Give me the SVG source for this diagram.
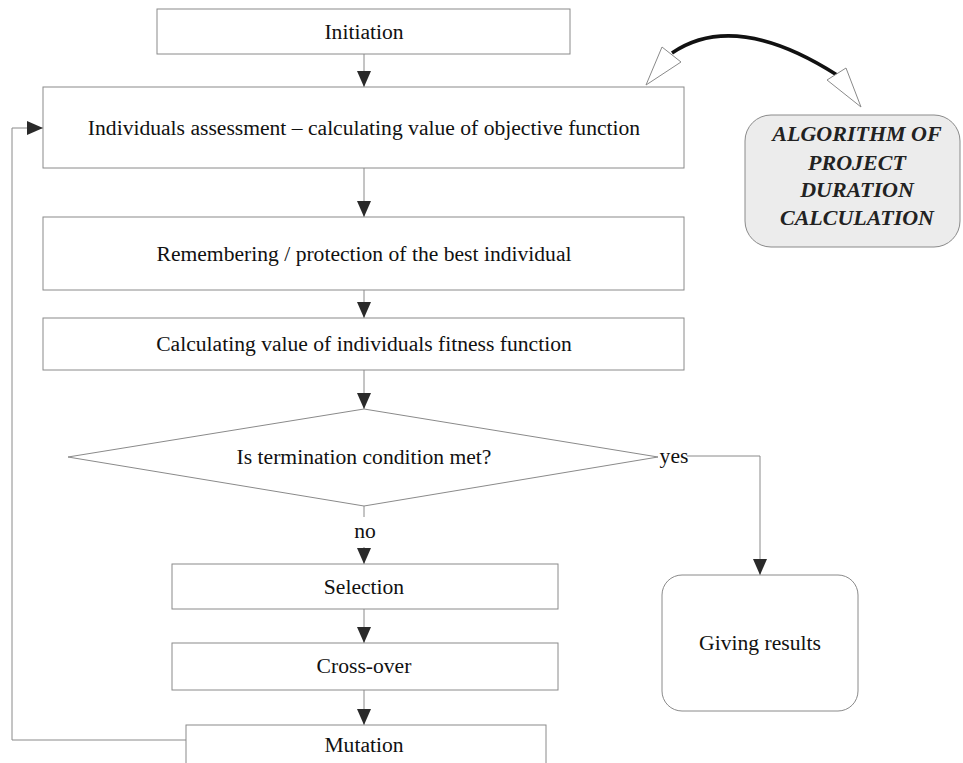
<svg xmlns="http://www.w3.org/2000/svg" width="963" height="763" viewBox="0 0 963 763">
<defs>
<style>
.box{fill:#fff;stroke:#8a8a8a;stroke-width:1}
.ln{fill:none;stroke:#8a8a8a;stroke-width:1}
.open{fill:#fff;stroke:#8a8a8a;stroke-width:1}
</style>
<marker id="ah" markerUnits="userSpaceOnUse" markerWidth="17" markerHeight="15" refX="16" refY="7" orient="auto">
<path d="M0,0 L16,7 L0,14 z" fill="#2a2a2a"/>
</marker>
</defs>
<rect width="963" height="763" fill="#fff"/>

<g id="connectors">
<line class="ln" x1="364" y1="54" x2="364" y2="87" marker-end="url(#ah)"/>
<line class="ln" x1="364" y1="168" x2="364" y2="217" marker-end="url(#ah)"/>
<line class="ln" x1="364" y1="290" x2="364" y2="318" marker-end="url(#ah)"/>
<line class="ln" x1="364" y1="370" x2="364" y2="409" marker-end="url(#ah)"/>
<line class="ln" x1="364" y1="506" x2="364" y2="517"/>
<line class="ln" x1="364" y1="547" x2="364" y2="564" marker-end="url(#ah)"/>
<line class="ln" x1="364" y1="609" x2="364" y2="643" marker-end="url(#ah)"/>
<line class="ln" x1="364" y1="690" x2="364" y2="725" marker-end="url(#ah)"/>
<polyline class="ln" points="687,456 760,456 760,575" marker-end="url(#ah)"/>
<polyline class="ln" points="186,740 12,740 12,128 43,128" marker-end="url(#ah)"/>
<path d="M672,53 Q735,10 837,75" fill="none" stroke="#111" stroke-width="3.5"/>
<polygon class="open" points="646,85 662,47 681,62"/>
<polygon class="open" points="861,107 827,80 846,68"/>
<g font-family="'Liberation Serif', 'Times New Roman', 'DejaVu Serif', serif" font-size="21.6" fill="#111" text-anchor="middle">
<text x="365" y="538">no</text>
<text x="674" y="463">yes</text>
</g>
</g>

<g font-family="'Liberation Serif', 'Times New Roman', 'DejaVu Serif', serif" font-size="21.6" fill="#111" text-anchor="middle">
<g id="initiation">
<rect class="box" x="157" y="9" width="413" height="45"/>
<text x="364" y="39">Initiation</text>
</g>
<g id="assessment">
<rect class="box" x="43" y="87" width="641" height="81"/>
<text x="364" y="135">Individuals assessment – calculating value of objective function</text>
</g>
<g id="remembering">
<rect class="box" x="43" y="217" width="641" height="73"/>
<text x="364" y="261">Remembering / protection of the best individual</text>
</g>
<g id="fitness">
<rect class="box" x="43" y="318" width="641" height="52"/>
<text x="364" y="351">Calculating value of individuals fitness function</text>
</g>
<g id="termination">
<polygon class="box" points="364,409 658,457 364,506 68,457"/>
<text x="364" y="464">Is termination condition met?</text>
</g>
<g id="selection">
<rect class="box" x="172" y="564" width="386" height="45"/>
<text x="364" y="594">Selection</text>
</g>
<g id="crossover">
<rect class="box" x="172" y="643" width="386" height="47"/>
<text x="364" y="673">Cross-over</text>
</g>
<g id="mutation">
<rect class="box" x="186" y="725" width="360" height="50"/>
<text x="364" y="752">Mutation</text>
</g>
<g id="results">
<rect class="box" x="662" y="575" width="196" height="136" rx="20" ry="20"/>
<text x="760" y="650">Giving results</text>
</g>
<g id="algorithm" font-weight="bold" font-style="italic" font-size="22" fill="#222">
<rect x="745" y="115" width="215" height="132" rx="26" ry="26" fill="#ececec" stroke="#8a8a8a" stroke-width="1"/>
<text x="857" y="141">ALGORITHM OF</text>
<text x="857" y="170">PROJECT</text>
<text x="857" y="197">DURATION</text>
<text x="857" y="225">CALCULATION</text>
</g>
</g>
</svg>
